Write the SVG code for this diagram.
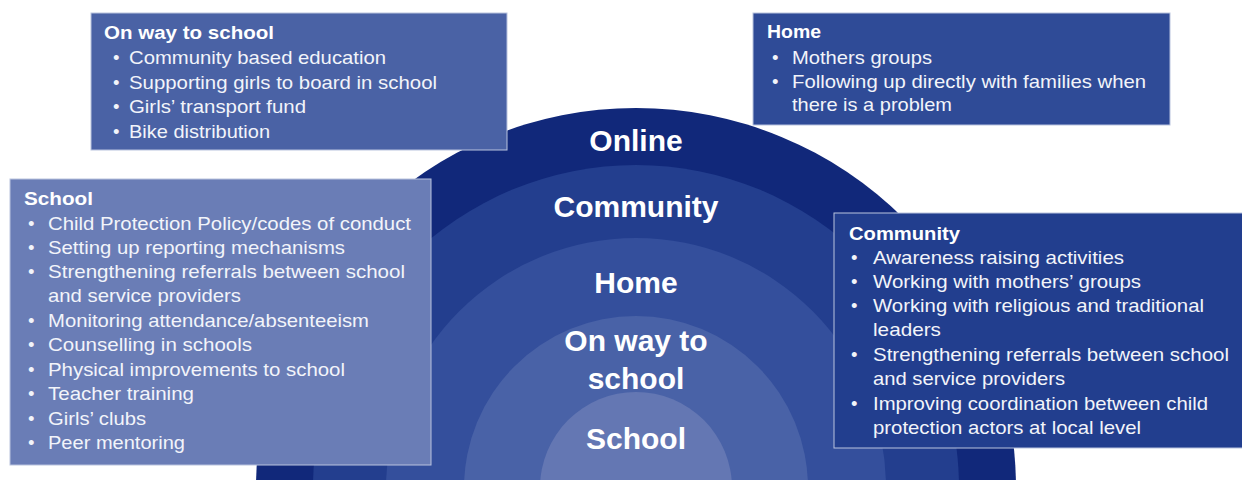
<svg xmlns="http://www.w3.org/2000/svg" width="1242" height="480" viewBox="0 0 1242 480">
<style>
.band-label{font-family:"Liberation Sans",Arial,sans-serif;font-weight:bold;font-size:30px;fill:#ffffff;text-anchor:middle}
.hdr{font-family:"Liberation Sans",Arial,sans-serif;font-weight:bold;font-size:18px;fill:#ffffff}
.item{font-family:"Liberation Sans",Arial,sans-serif;font-size:18.5px;fill:#f2f4fa}
.box{stroke:#b9c3de;stroke-width:1}
</style>
<rect width="1242" height="480" fill="#ffffff"/>
<g id="rings">
  <g id="ring-online"><circle cx="636" cy="488" r="380" fill="#11287a"/><text class="band-label" x="636" y="151">Online</text></g>
  <g id="ring-community"><circle cx="636" cy="488" r="323" fill="#233e8e"/><text class="band-label" x="636" y="217">Community</text></g>
  <g id="ring-home"><circle cx="636" cy="488" r="250" fill="#344f9c"/><text class="band-label" x="636" y="293">Home</text></g>
  <g id="ring-onway"><circle cx="636" cy="488" r="172" fill="#4962a7"/><text class="band-label" x="636" y="351">On way to</text><text class="band-label" x="636" y="389">school</text></g>
  <g id="ring-school"><circle cx="636" cy="488" r="96" fill="#6477b3"/><text class="band-label" x="636" y="449">School</text></g>
</g>
<g id="box-onway">
  <rect class="box" x="91" y="13" width="416" height="137" fill="#4a62a5"/>
  <text class="hdr" x="104" y="39" textLength="170" lengthAdjust="spacingAndGlyphs">On way to school</text>
  <text class="item" x="113" y="64">•</text><text class="item" x="129" y="64" textLength="257" lengthAdjust="spacingAndGlyphs">Community based education</text>
  <text class="item" x="113" y="89">•</text><text class="item" x="129" y="89" textLength="308" lengthAdjust="spacingAndGlyphs">Supporting girls to board in school</text>
  <text class="item" x="113" y="113">•</text><text class="item" x="129" y="113" textLength="177" lengthAdjust="spacingAndGlyphs">Girls’ transport fund</text>
  <text class="item" x="113" y="138">•</text><text class="item" x="129" y="138" textLength="141" lengthAdjust="spacingAndGlyphs">Bike distribution</text>
</g>
<g id="box-home">
  <rect class="box" x="753" y="13" width="417" height="112" fill="#2f4b97"/>
  <text class="hdr" x="767" y="38" textLength="54" lengthAdjust="spacingAndGlyphs">Home</text>
  <text class="item" x="772" y="64">•</text><text class="item" x="792" y="64" textLength="140" lengthAdjust="spacingAndGlyphs">Mothers groups</text>
  <text class="item" x="772" y="88">•</text><text class="item" x="792" y="88" textLength="354" lengthAdjust="spacingAndGlyphs">Following up directly with families when</text>
  <text class="item" x="792" y="111" textLength="160" lengthAdjust="spacingAndGlyphs">there is a problem</text>
</g>
<g id="box-school">
  <rect class="box" x="10" y="179" width="421" height="286" fill="#6a7db6"/>
  <text class="hdr" x="24" y="205" textLength="69" lengthAdjust="spacingAndGlyphs">School</text>
  <text class="item" x="28" y="230">•</text><text class="item" x="48" y="230" textLength="363" lengthAdjust="spacingAndGlyphs">Child Protection Policy/codes of conduct</text>
  <text class="item" x="28" y="254">•</text><text class="item" x="48" y="254" textLength="297" lengthAdjust="spacingAndGlyphs">Setting up reporting mechanisms</text>
  <text class="item" x="28" y="278">•</text><text class="item" x="48" y="278" textLength="357" lengthAdjust="spacingAndGlyphs">Strengthening referrals between school</text>
  <text class="item" x="48" y="302" textLength="193" lengthAdjust="spacingAndGlyphs">and service providers</text>
  <text class="item" x="28" y="327">•</text><text class="item" x="48" y="327" textLength="321" lengthAdjust="spacingAndGlyphs">Monitoring attendance/absenteeism</text>
  <text class="item" x="28" y="351">•</text><text class="item" x="48" y="351" textLength="204" lengthAdjust="spacingAndGlyphs">Counselling in schools</text>
  <text class="item" x="28" y="376">•</text><text class="item" x="48" y="376" textLength="297" lengthAdjust="spacingAndGlyphs">Physical improvements to school</text>
  <text class="item" x="28" y="400">•</text><text class="item" x="48" y="400" textLength="146" lengthAdjust="spacingAndGlyphs">Teacher training</text>
  <text class="item" x="28" y="425">•</text><text class="item" x="48" y="425" textLength="98" lengthAdjust="spacingAndGlyphs">Girls’ clubs</text>
  <text class="item" x="28" y="449">•</text><text class="item" x="48" y="449" textLength="137" lengthAdjust="spacingAndGlyphs">Peer mentoring</text>
</g>
<g id="box-community">
  <rect class="box" x="834" y="213" width="409" height="235" fill="#223e8e"/>
  <text class="hdr" x="849" y="240" textLength="111" lengthAdjust="spacingAndGlyphs">Community</text>
  <text class="item" x="851" y="264">•</text><text class="item" x="873" y="264" textLength="251" lengthAdjust="spacingAndGlyphs">Awareness raising activities</text>
  <text class="item" x="851" y="288">•</text><text class="item" x="873" y="288" textLength="268" lengthAdjust="spacingAndGlyphs">Working with mothers’ groups</text>
  <text class="item" x="851" y="312">•</text><text class="item" x="873" y="312" textLength="331" lengthAdjust="spacingAndGlyphs">Working with religious and traditional</text>
  <text class="item" x="873" y="336" textLength="68" lengthAdjust="spacingAndGlyphs">leaders</text>
  <text class="item" x="851" y="361">•</text><text class="item" x="873" y="361" textLength="356" lengthAdjust="spacingAndGlyphs">Strengthening referrals between school</text>
  <text class="item" x="873" y="385" textLength="192" lengthAdjust="spacingAndGlyphs">and service providers</text>
  <text class="item" x="851" y="410">•</text><text class="item" x="873" y="410" textLength="335" lengthAdjust="spacingAndGlyphs">Improving coordination between child</text>
  <text class="item" x="873" y="434" textLength="268" lengthAdjust="spacingAndGlyphs">protection actors at local level</text>
</g>
<g id="connectors"/>
</svg>
